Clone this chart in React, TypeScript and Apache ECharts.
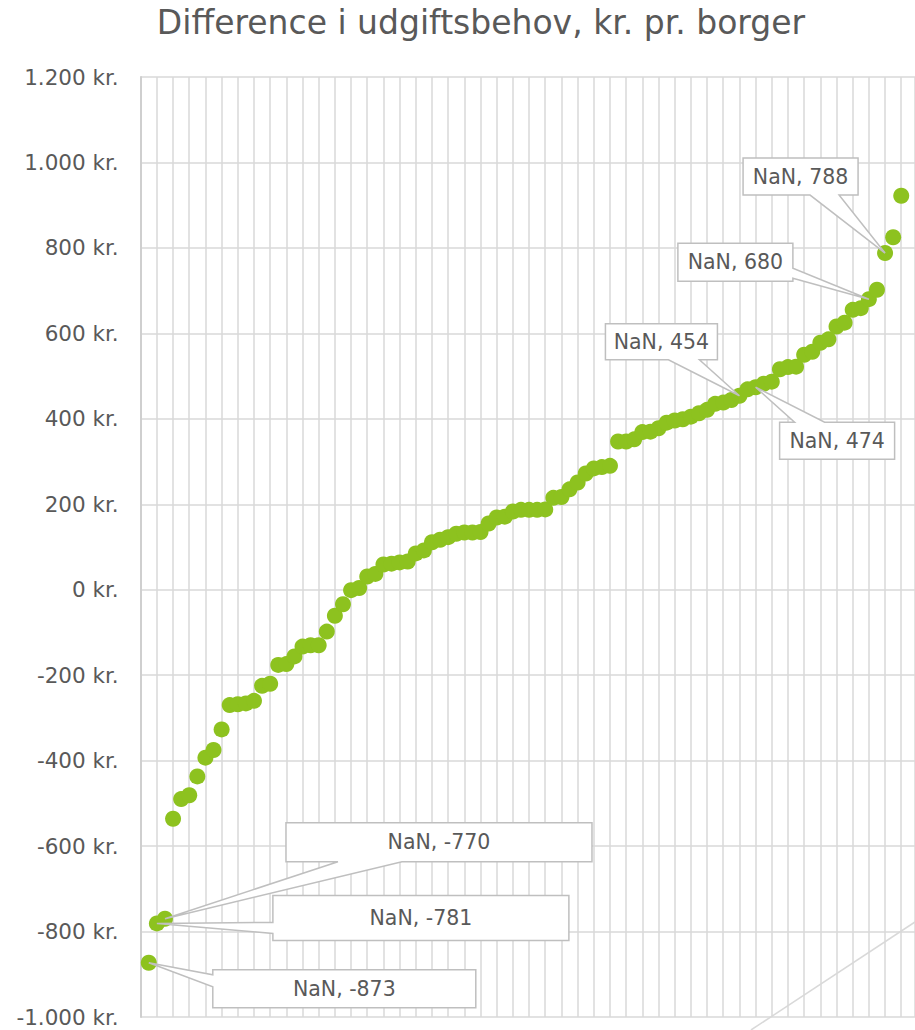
import React, { useEffect, useRef } from "react";
import * as echarts from "echarts";

const TITLE = "Difference i udgiftsbehov, kr. pr. borger";

// Difference in expenditure need, kr. per citizen, sorted ascending (x label is "NaN" in the source)
const values: number[] = [
  -873, -781, -770, -536, -490, -481, -437, -393, -375, -327,
  -270, -268, -266, -260, -225, -220, -176, -174, -156, -133,
  -130, -130, -98, -61, -34, -1, 4, 31, 37, 59,
  61, 64, 66, 85, 92, 111, 117, 123, 131, 134,
  134, 135, 155, 169, 171, 183, 187, 187, 187, 188,
  215, 217, 235, 251, 272, 284, 287, 290, 347, 347,
  352, 369, 370, 378, 391, 396, 399, 405, 413, 421,
  435, 438, 444, 454, 469, 474, 482, 487, 516, 521,
  522, 550, 557, 578, 586, 616, 625, 655, 659, 680,
  702, 788, 825, 922,
];

const xLabelText = "NaN";
const yMin = -1000;
const yMax = 1200;
const yStep = 200;
const xMin = 0;
const xMax = 95.7;
const xStep = 2;

// positions (1-based) of the points carrying a callout
const labelled: number[] = [92, 90, 74, 76, 3, 2, 1];

// callout layout, pixel offsets from the point: box [dx0, dy0, dx1, dy1], wedge edge and base
type Callout = { box: number[]; edge: "top" | "bottom" | "left" | "right"; a: number; b: number };
const calloutLayout: Callout[] = [
  { box: [-142, -95, -27, -58], edge: "bottom", a: -75, b: -46 },
  { box: [-191, -56, -76, -18], edge: "right", a: -31, b: -21 },
  { box: [-134, -72, -22, -36], edge: "bottom", a: -71, b: -40 },
  { box: [24, 35, 139, 72], edge: "top", a: 39, b: 69 },
  { box: [121, -96, 427, -57], edge: "bottom", a: 173, b: 237 },
  { box: [116, -28, 412, 17], edge: "left", a: -1, b: 10 },
  { box: [64, 7, 327, 45], edge: "left", a: 12, b: 24 },
];

const FONT = "DejaVu Sans";
const TEXT_COLOR = "#595959";
const GRID_COLOR = "#d9d9d9";
const MARKER_COLOR = "#8DC21F";

function fmtKr(v: number): string {
  const s = Math.abs(v).toString().replace(/\B(?=(\d{3})+(?!\d))/g, ".");
  return (v < 0 ? "-" : "") + s + " kr.";
}

function calloutPoints(px: number, py: number, c: Callout): number[][] {
  const x0 = px + c.box[0];
  const y0 = py + c.box[1];
  const x1 = px + c.box[2];
  const y1 = py + c.box[3];
  const tip = [px, py];
  switch (c.edge) {
    case "bottom":
      return [[x0, y0], [x1, y0], [x1, y1], [px + c.b, y1], tip, [px + c.a, y1], [x0, y1]];
    case "top":
      return [[x0, y0], [px + c.a, y0], tip, [px + c.b, y0], [x1, y0], [x1, y1], [x0, y1]];
    case "left":
      return [[x0, y0], [x1, y0], [x1, y1], [x0, y1], [x0, py + c.b], tip, [x0, py + c.a]];
    default:
      return [[x0, y0], [x1, y0], [x1, py + c.a], tip, [x1, py + c.b], [x1, y1], [x0, y1]];
  }
}

export default function App() {
  const ref = useRef<HTMLDivElement>(null);

  useEffect(() => {
    if (!ref.current) return;
    const chart = echarts.init(ref.current, null, { renderer: "svg" });
    const data = values.map((v, i) => [i + 1, v]);

    chart.setOption({
      animation: false,
      backgroundColor: "#ffffff",
      grid: { left: 140.7, right: 0, top: 77, bottom: 13, containLabel: false },
      xAxis: {
        type: "value",
        min: xMin,
        max: xMax,
        interval: xStep,
        axisLine: { show: false },
        axisTick: { show: false },
        axisLabel: { show: false },
        splitLine: { show: true, lineStyle: { color: GRID_COLOR, width: 1.5 } },
      },
      yAxis: {
        type: "value",
        min: yMin,
        max: yMax,
        interval: yStep,
        axisLine: { show: true, lineStyle: { color: "#cfcfcf", width: 2 } },
        axisTick: { show: false },
        axisLabel: {
          color: TEXT_COLOR,
          fontFamily: FONT,
          fontSize: 21.5,
          margin: 22,
          formatter: (v: number) => fmtKr(v),
        },
        splitLine: { show: true, lineStyle: { color: GRID_COLOR, width: 1.5 } },
      },
      series: [
        {
          type: "scatter",
          data,
          symbol: "circle",
          symbolSize: 16,
          itemStyle: { color: MARKER_COLOR, opacity: 1 },
          z: 3,
        },
      ],
    });

    const graphics: any[] = [
      {
        type: "text",
        x: 481,
        y: 22,
        z: 10,
        style: {
          text: TITLE,
          fill: TEXT_COLOR,
          fontFamily: FONT,
          fontSize: 33,
          textAlign: "center",
          textVerticalAlign: "middle",
        },
      },
      {
        type: "line",
        z: 2,
        shape: { x1: 751, y1: 1030, x2: 915, y2: 922 },
        style: { stroke: GRID_COLOR, lineWidth: 1.5 },
      },
    ];

    labelled.forEach((pos, k) => {
      const v = values[pos - 1];
      const [px, py] = chart.convertToPixel({ gridIndex: 0 }, [pos, v]) as number[];
      const c = calloutLayout[k];
      graphics.push({
        type: "polygon",
        z: 20,
        shape: { points: calloutPoints(px, py, c) },
        style: { fill: "#ffffff", stroke: "#bfbfbf", lineWidth: 1.5 },
      });
      graphics.push({
        type: "text",
        z: 21,
        x: px + (c.box[0] + c.box[2]) / 2,
        y: py + (c.box[1] + c.box[3]) / 2,
        style: {
          text: `${xLabelText}, ${v}`,
          fill: TEXT_COLOR,
          fontFamily: FONT,
          fontSize: 20.5,
          textAlign: "center",
          textVerticalAlign: "middle",
        },
      });
    });

    chart.setOption({ graphic: graphics });

    return () => chart.dispose();
  }, []);

  return (
    <div
      ref={ref}
      style={{ position: "fixed", left: 0, top: 0, width: 915, height: 1030 }}
    />
  );
}
